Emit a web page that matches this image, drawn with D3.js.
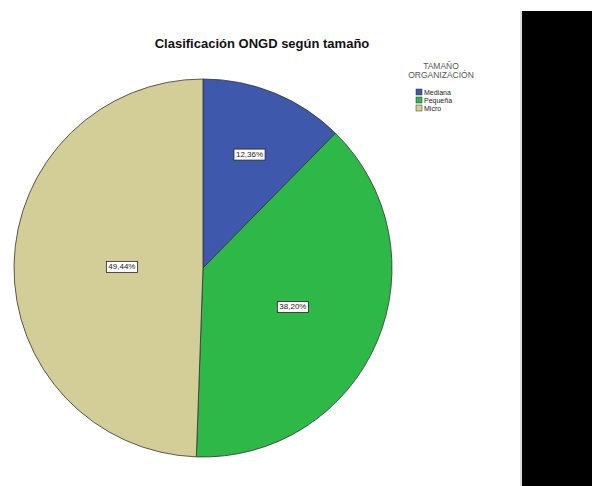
<!DOCTYPE html>
<html><head><meta charset="utf-8">
<script src="https://cdn.jsdelivr.net/npm/d3@7"></script>
<style>body{margin:0;background:#fff}svg{display:block}</style>
</head><body>
<svg id="c" width="592" height="486"></svg>
<script>
const categories = ["Mediana", "Pequeña", "Micro"];
const values = [12.36, 38.20, 49.44];
const labels = ["12,36%", "38,20%", "49,44%"];
const colors = ["#3E58AC", "#2EB848", "#D3CE97"];
const title = "Clasificación ONGD según tamaño";
const legendTitle = ["TAMAÑO", "ORGANIZACIÓN"];

const svg = d3.select("#c");
const font = "'Liberation Sans', Arial, sans-serif";
const cx = 203, cy = 268, r = 189;

svg.append("text").attr("x", 262).attr("y", 48).attr("text-anchor", "middle")
  .attr("font-family", font).attr("font-weight", "bold").attr("font-size", 13)
  .attr("fill", "#111").text(title);

const pie = d3.pie().sort(null).value(d => d)(values);
const arc = d3.arc().innerRadius(0).outerRadius(r);
const g = svg.append("g").attr("transform", `translate(${cx},${cy})`);
g.selectAll("path").data(pie).join("path")
  .attr("d", arc).attr("fill", (d, i) => colors[i])
  .attr("stroke", "#333").attr("stroke-width", 0.8);

// labels at area centroid of each sector
pie.forEach((d, i) => {
  const a = d.endAngle - d.startAngle;
  const mid = (d.startAngle + d.endAngle) / 2;
  const dist = 4 * r * Math.sin(a / 2) / (3 * a);
  const x = dist * Math.sin(mid), y = -dist * Math.cos(mid);
  const lg = g.append("g").attr("transform", `translate(${x},${y})`);
  const t = lg.append("text").attr("text-anchor", "middle").attr("dy", "0.35em")
    .attr("font-family", font).attr("font-size", 8).attr("fill", "#222").text(labels[i]);
  const bb = t.node().getBBox();
  lg.insert("rect", "text").attr("x", bb.x - 2).attr("y", bb.y - 1)
    .attr("width", bb.width + 4).attr("height", bb.height + 2)
    .attr("fill", "#fff").attr("stroke", "#222").attr("stroke-width", 0.8);
});

// legend
const lx = 441;
legendTitle.forEach((t, i) => {
  svg.append("text").attr("x", lx).attr("y", 69 + i * 9).attr("text-anchor", "middle")
    .attr("font-family", font).attr("font-size", 8.5).attr("fill", "#555").text(t);
});
categories.forEach((c, i) => {
  const y = 89 + i * 8;
  svg.append("rect").attr("x", 416).attr("y", y).attr("width", 6).attr("height", 6)
    .attr("fill", colors[i]).attr("stroke", "#333").attr("stroke-width", 0.5);
  svg.append("text").attr("x", 424).attr("y", y + 5.5)
    .attr("font-family", font).attr("font-size", 7).attr("fill", "#222").text(c);
});

// black panel on the right
svg.append("line").attr("x1", 521).attr("x2", 521).attr("y1", 11).attr("y2", 486)
  .attr("stroke", "#bbb").attr("stroke-width", 1);
svg.append("rect").attr("x", 522).attr("y", 11).attr("width", 70).attr("height", 475).attr("fill", "#000");
</script>
</body></html>
